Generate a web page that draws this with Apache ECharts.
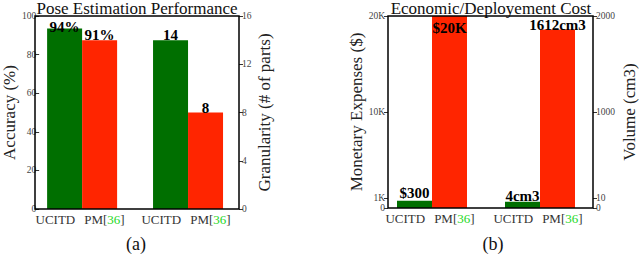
<!DOCTYPE html>
<html>
<head>
<meta charset="utf-8">
<script src="https://cdn.jsdelivr.net/npm/echarts@6/dist/echarts.min.js"></script>
<style>
html,body{margin:0;padding:0;background:#fff;}
#c{width:640px;height:256px;}
</style>
</head>
<body>
<div id="c"></div>
<script>
// ---- data ----
const methods = ['UCITD', 'PM[36]'];
const groupsA = ['Accuracy', 'Granularity'];
const groupsB = ['Expenses', 'Volume'];
// (a) Pose estimation performance
const accuracyValues = [93.5, 87.5];          // UCITD, PM (bar heights as drawn)
const accuracyLabels = ['94%', '91%'];
const granularityValues = [14, 8];
const granularityLabels = ['14', '8'];
const accuracyTicks = [0, 20, 40, 60, 80, 100];
const granularityTicks = [0, 4, 8, 12, 16];
// (b) Economic / deployment cost
const expenseValues = [760, 20000];
const expenseLabels = ['$300', '$20K'];
const volumeValues = [66, 1860];
const volumeLabels = ['4cm3', '1612cm3'];
const expenseTickValues = [0, 1000, 10000, 20000];
const expenseTickLabels = ['0', '1K', '10K', '20K'];
const volumeTickValues = [0, 100, 1000, 2000];
const volumeTickLabels = ['0', '10', '1000', '2000'];
const titles = ['Pose Estimation Performance', 'Economic/Deployement Cost'];
const captions = ['(a)', '(b)'];

// ---- style ----
const GREEN = '#006f00', RED = '#ff2500', CITE = '#22d822';
const SERIF = "'Liberation Serif', 'Times New Roman', serif";

const chart = echarts.init(document.getElementById('c'), null, {renderer: 'svg'});

function catLabel() {
  return '{m|' + methods[0] + '}{sp|}{m|PM[}{g|36}{m|]}';
}
const xLabel = {
  interval: 0, hideOverlap: false,
  formatter: catLabel, margin: 4, padding: [0, 4, 0, 0],
  fontFamily: SERIF, fontSize: 13,
  rich: {
    m: {fontFamily: SERIF, fontSize: 13, color: '#333'},
    g: {fontFamily: SERIF, fontSize: 13, color: CITE},
    sp: {width: 9}
  }
};
function yAx(grid, pos, min, max, interval, name, nameGap, offset, extra) {
  const a = {
    type: 'value', gridIndex: grid, position: pos, min: min, max: max,
    offset: offset, splitLine: {show: false}, axisLine: {show: false},
    axisTick: {show: true, length: 4, lineStyle: {color: '#333'}},
    axisLabel: {fontFamily: SERIF, fontSize: 9.5, color: '#444', margin: 3,
      showMinLabel: true, showMaxLabel: true, hideOverlap: false},
    name: name, nameLocation: 'middle', nameRotate: 90, nameGap: nameGap,
    nameTextStyle: {fontFamily: SERIF, fontSize: 17, color: '#222'}
  };
  if (interval) a.interval = interval;
  if (extra) Object.assign(a.axisLabel, extra.label), Object.assign(a.axisTick, extra.tick);
  return a;
}
// custom-tick axis (ticks/labels at given values only)
function customAx(grid, pos, values, labels, from, to, name, nameGap, offset) {
  const vals = values.slice(from, to);
  const lbls = labels.slice(from, to);
  return yAx(grid, pos, values[0], values[values.length - 1], null, name, nameGap, offset, {
    label: {customValues: vals, formatter: v => lbls[vals.indexOf(v)]},
    tick: {customValues: vals}});
}
const barLabel = (labels, pos, dist) => ({
  show: true, position: pos || 'top', distance: dist === undefined ? -2.5 : dist,
  fontFamily: SERIF, fontWeight: 'bold', fontSize: 15, color: '#000',
  formatter: p => labels[p.dataIndex]
});
function bar(name, x, y, stack, color, data, label) {
  return {type: 'bar', name: name, xAxisIndex: x, yAxisIndex: y, stack: stack,
    barWidth: 35, barGap: 0, itemStyle: {color: color}, data: data, label: label,
    emphasis: {disabled: true}, animation: false};
}
const textStyle = (t, size) => ({text: t, fontFamily: SERIF, fontSize: size, fill: '#111',
  textAlign: 'center', textVerticalAlign: 'middle'});

const option = {
  animation: false,
  textStyle: {fontFamily: SERIF},
  grid: [
    {left: 25, width: 216, top: 16, bottom: 47},
    {left: 35, width: 204, top: 16, bottom: 47, show: true, borderColor: '#000', borderWidth: 1.5, backgroundColor: 'transparent', z: 5},
    {left: 378, width: 216, top: 16, bottom: 48},
    {left: 388, width: 205, top: 16, bottom: 48, show: true, borderColor: '#000', borderWidth: 1.5, backgroundColor: 'transparent', z: 5}
  ],
  xAxis: [
    {type: 'category', gridIndex: 0, data: groupsA, axisLine: {show: false}, axisTick: {show: false}, axisLabel: xLabel},
    {type: 'category', gridIndex: 1, data: groupsA, show: false},
    {type: 'category', gridIndex: 2, data: groupsB, axisLine: {show: false}, axisTick: {show: false}, axisLabel: xLabel},
    {type: 'category', gridIndex: 3, data: groupsB, show: false}
  ],
  yAxis: [
    /*0*/ yAx(0, 'left', accuracyTicks[0], accuracyTicks[accuracyTicks.length - 1], accuracyTicks[1] - accuracyTicks[0], 'Accuracy (%)', 18, -10),
    /*1*/ yAx(0, 'right', granularityTicks[0], granularityTicks[granularityTicks.length - 1], granularityTicks[1] - granularityTicks[0], 'Granularity (# of parts)', 17, -2),
    /*2*/ {type: 'value', gridIndex: 1, show: false},
    /*3*/ customAx(2, 'left', expenseTickValues, expenseTickLabels, 1, expenseTickValues.length, 'Monetary Expenses ($)', 23, -10),
    /*4*/ customAx(2, 'right', volumeTickValues, volumeTickLabels, 1, volumeTickValues.length, 'Volume (cm3)', 28, -1),
    /*5*/ {type: 'value', gridIndex: 3, show: false},
    /*6*/ customAx(2, 'left', expenseTickValues, expenseTickLabels, 0, 1, '', 23, -10),
    /*7*/ customAx(2, 'right', volumeTickValues, volumeTickLabels, 0, 1, '', 28, -1)
  ],
  graphic: [
    {type: 'text', x: 137, y: 8, style: textStyle(titles[0], 17)},
    {type: 'text', x: 491, y: 8, style: textStyle(titles[1], 17)},
    {type: 'text', x: 136, y: 244, style: textStyle(captions[0], 18)},
    {type: 'text', x: 493, y: 244, style: textStyle(captions[1], 18)}
  ],
  series: [
    bar('UCITD accuracy', 0, 0, 'a-ucitd', GREEN, [accuracyValues[0], '-'], barLabel([accuracyLabels[0]], 'top', -5.5)),
    bar('PM accuracy', 0, 0, 'a-pm', RED, [accuracyValues[1], '-'], barLabel([accuracyLabels[1]])),
    bar('UCITD granularity', 0, 1, 'a-ucitd', GREEN, ['-', granularityValues[0]], barLabel(['', granularityLabels[0]])),
    bar('PM granularity', 0, 1, 'a-pm', RED, ['-', granularityValues[1]], barLabel(['', granularityLabels[1]])),
    bar('UCITD expenses', 2, 3, 'b-ucitd', GREEN, [expenseValues[0], '-'], barLabel([expenseLabels[0]], 'top', 0)),
    bar('PM expenses', 2, 3, 'b-pm', RED, [expenseValues[1], '-'], barLabel([expenseLabels[1]], 'insideTop', 4)),
    bar('UCITD volume', 2, 4, 'b-ucitd', GREEN, ['-', volumeValues[0]], barLabel(['', volumeLabels[0]], 'top', -2)),
    bar('PM volume', 2, 4, 'b-pm', RED, ['-', volumeValues[1]], barLabel(['', volumeLabels[1]], 'top', -3))
  ]
};
chart.setOption(option);
</script>
</body>
</html>
